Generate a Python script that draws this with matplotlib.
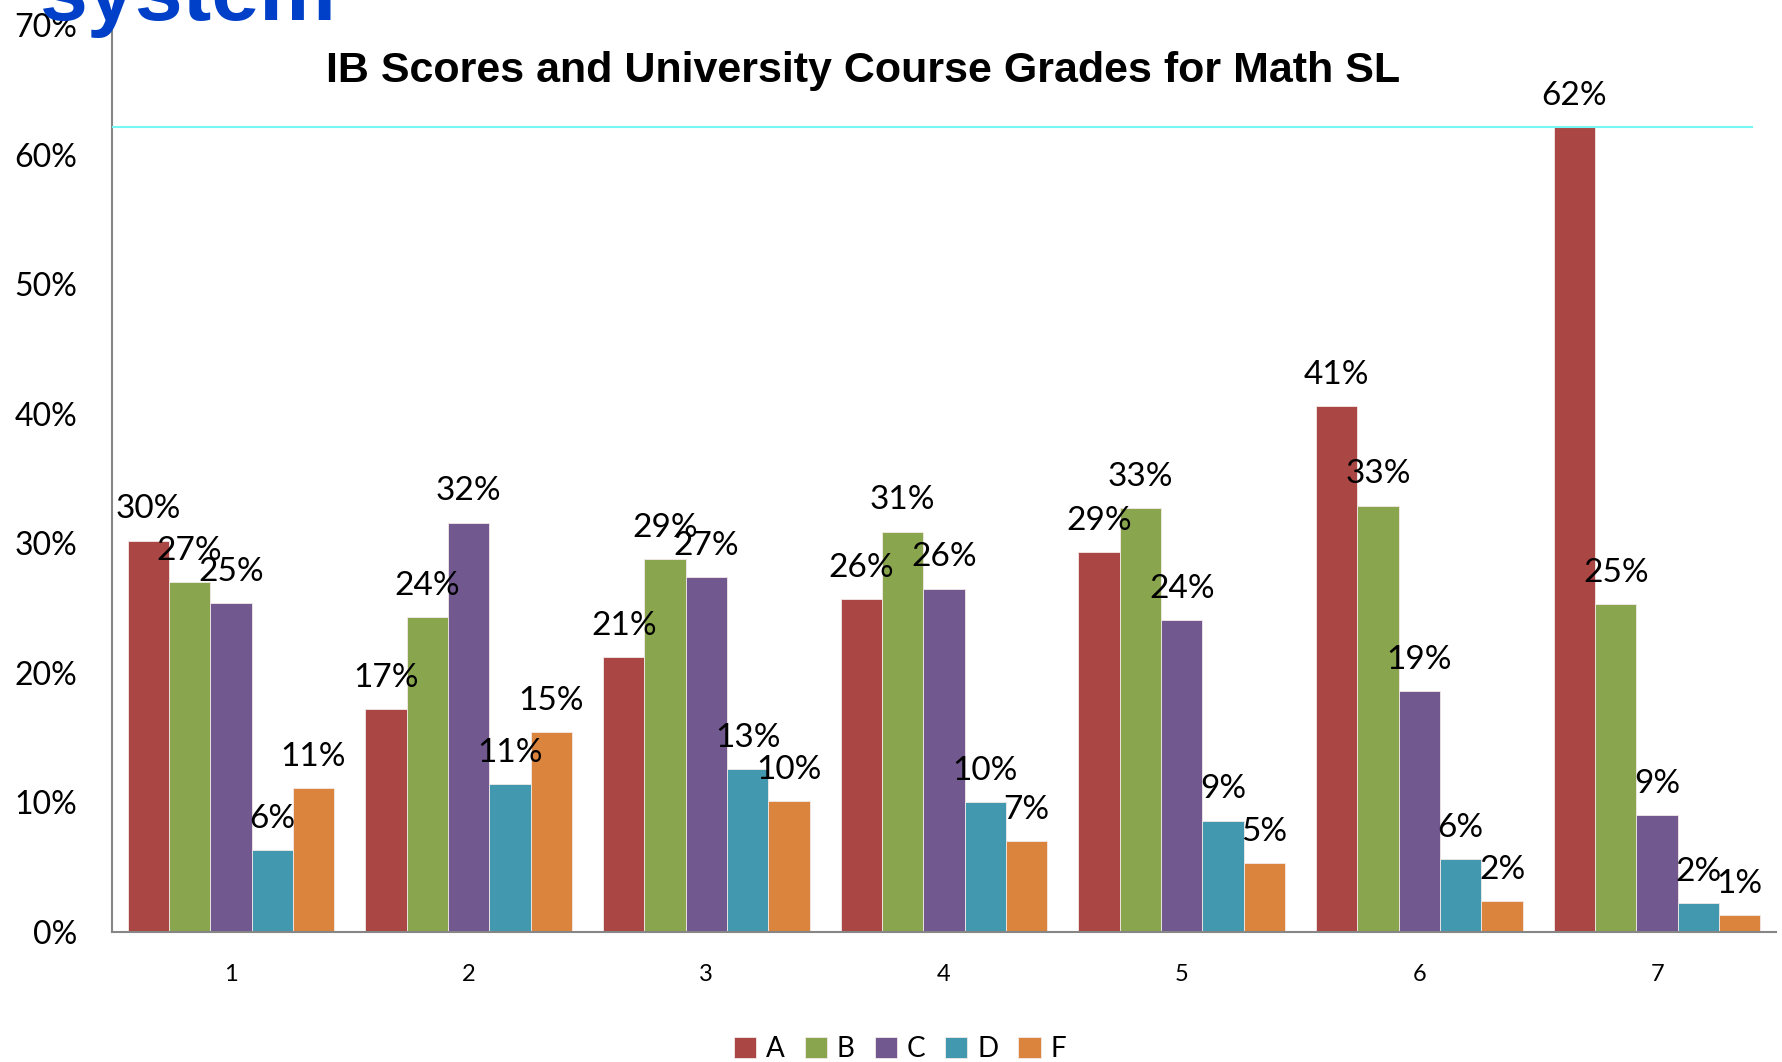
import matplotlib
matplotlib.use("Agg")
import matplotlib.pyplot as plt
import numpy as np

plt.rcParams['font.family'] = ['Lato', 'DejaVu Sans']

categories = ['1', '2', '3', '4', '5', '6', '7']
series_names = ['A', 'B', 'C', 'D', 'F']
A = [30.2, 17.2, 21.2, 25.7, 29.3, 40.6, 62.1]
B = [27.0, 24.3, 28.8, 30.9, 32.7, 32.9, 25.3]
C = [25.4, 31.6, 27.4, 26.5, 24.1, 18.6, 9.0]
D = [6.3, 11.4, 12.6, 10.0, 8.6, 5.6, 2.2]
F = [11.1, 15.4, 10.1, 7.0, 5.3, 2.4, 1.3]
colors = ['#AA4643', '#89A54E', '#71588F', '#4198AF', '#DB843D']
yticks = [0, 10, 20, 30, 40, 50, 60, 70]
title = 'IB Scores and University Course Grades for Math SL'

W, H = 1783, 1062
fig = plt.figure(figsize=(W / 100, H / 100), dpi=100)
ax = fig.add_axes([112 / W, 1 - 932 / H, (1776 - 112) / W, (932 - 25) / H])

x = np.arange(len(categories))
bw = 0.1737
series = [A, B, C, D, F]
for i, (name, vals, col) in enumerate(zip(series_names, series, colors)):
    xs = x + (i - 2) * bw
    ax.bar(xs, vals, width=bw, color=col, label=name, edgecolor='#f3e9e9', linewidth=0.6, zorder=2)
    for xi, v in zip(xs, vals):
        ax.annotate(f"{round(v)}%", (xi, v), xytext=(0, 16), textcoords='offset points',
                    ha='center', va='baseline', fontsize=24, color='black', zorder=4)

# cyan reference line at top of highest bar
ax.axhline(max(A), xmin=0, xmax=(1752 - 112) / (1776 - 112), color='#74F7F5', lw=1.5, zorder=3)

ax.set_xlim(-0.5, len(categories) - 0.5)
ax.set_ylim(0, 70)
ax.set_yticks(yticks)
ax.set_yticklabels([f"{t}%" for t in yticks], fontsize=23)
ax.set_xticks(x)
ax.set_xticklabels(categories, fontsize=17)
ax.tick_params(axis='y', length=0, pad=25)
ax.tick_params(axis='x', length=0, pad=23)
for s in ['top', 'right']:
    ax.spines[s].set_visible(False)
for s in ['left', 'bottom']:
    ax.spines[s].set_color('#868686')
    ax.spines[s].set_linewidth(1.5)

fig.text(863 / W, 1 - 71 / H, title, ha='center', va='center', fontsize=31,
         fontweight='bold', family=['Liberation Sans', 'DejaVu Sans'], color='black')

fig.text(40 / W, 1 - 20 / H, 'system', ha='left', va='baseline', fontsize=62,
         fontweight='bold', family=['Liberation Sans', 'DejaVu Sans'], color='#0040C8', zorder=10)

leg = fig.legend(loc='center', bbox_to_anchor=(900 / W, 1 - 1049 / H), ncol=5, frameon=False,
                 fontsize=20, handlelength=0.8, handleheight=0.8, handletextpad=0.35,
                 columnspacing=0.72, borderpad=0)

fig.savefig('out.png', dpi=100)
